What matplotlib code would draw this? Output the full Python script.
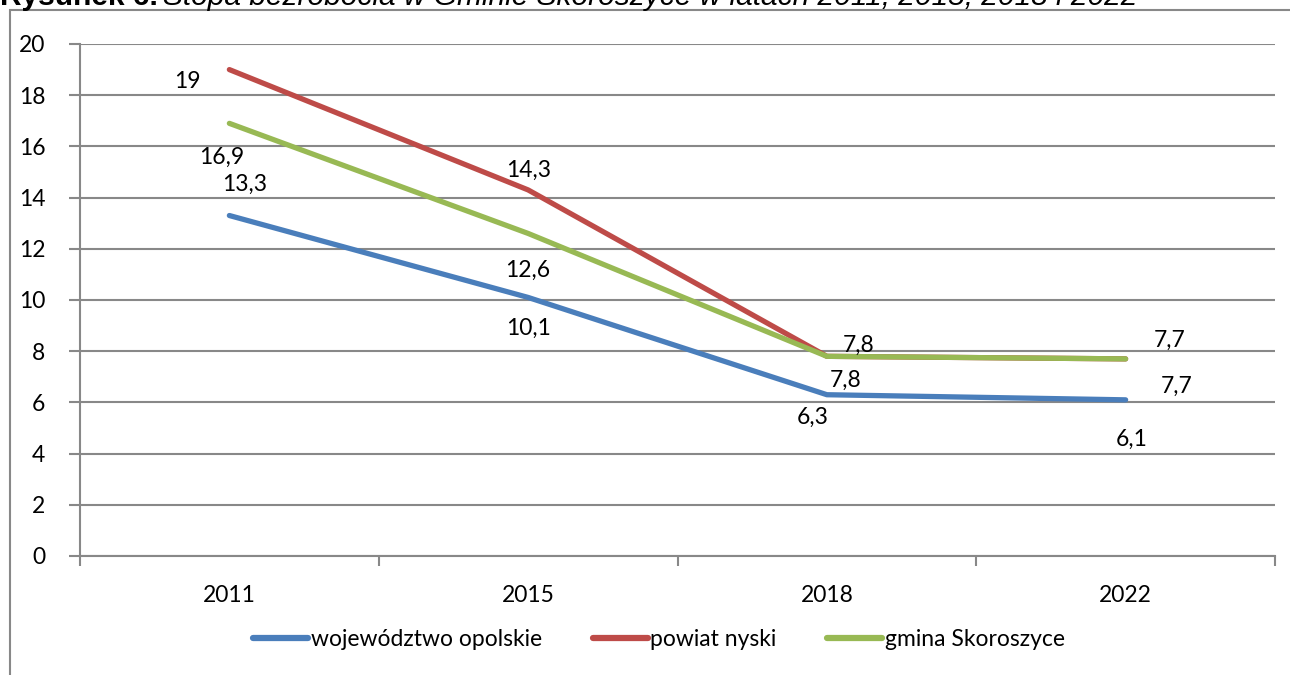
import matplotlib
matplotlib.use("Agg")
import matplotlib.pyplot as plt
from matplotlib.patches import Rectangle
from matplotlib.lines import Line2D

# chart data
years = ["2011", "2015", "2018", "2022"]
wojewodztwo = [13.3, 10.1, 6.3, 6.1]
powiat = [19, 14.3, 7.8, 7.7]
gmina = [16.9, 12.6, 7.8, 7.7]
series_names = ["województwo opolskie", "powiat nyski", "gmina Skoroszyce"]
y_ticks = [0, 2, 4, 6, 8, 10, 12, 14, 16, 18, 20]

# styling
colors = ["#4A7EBB", "#BE4B48", "#98B954"]
grid_color = "#888888"
label_font = "Lato"
font_size = 16.5
# data label offsets in pixels (dx, dy) as placed in the source chart
label_offsets = [
    [(15, 31), (0, -31), (-14, -23), (6, -40)],
    [(-42, -12), (0, 20), (19, -24), (51, -27)],
    [(-8, -34), (0, -37), (32, 11), (44, 19)],
]

W, H = 1290, 675
fig = plt.figure(figsize=(W / 100, H / 100), dpi=100)
ax = fig.add_axes([80 / W, (H - 556) / H, (1275 - 80) / W, 512 / H])

x = list(range(len(years)))
for values, color in zip([wojewodztwo, powiat, gmina], colors):
    ax.plot(x, values, color=color, lw=3.8, solid_capstyle="round", zorder=3)

for values, offsets in zip([wojewodztwo, powiat, gmina], label_offsets):
    for xi, v, (dx, dy) in zip(x, values, offsets):
        ax.annotate(f"{v:g}".replace(".", ","), (xi, v), xytext=(dx, dy),
                    textcoords="offset pixels", ha="center", va="center",
                    fontsize=font_size, family=label_font, color="black", zorder=4)

ax.set_xlim(-0.5, len(years) - 0.5)
ax.set_ylim(0, 20)
ax.set_yticks(y_ticks)
ax.set_yticklabels([str(t) for t in y_ticks])
ax.set_xticks([i - 0.5 for i in range(len(years) + 1)])
ax.set_xticklabels([])
ax.set_xticks(x, minor=True)
ax.set_xticklabels(years, minor=True)
ax.tick_params(axis="x", which="major", length=7, width=1.5, color=grid_color,
               direction="out")
ax.tick_params(axis="x", which="minor", length=0, pad=21)
ax.tick_params(axis="y", length=8, width=1.5, color=grid_color, pad=17)
for lbl in ax.get_xticklabels(minor=True) + ax.get_yticklabels():
    lbl.set_fontfamily(label_font)
    lbl.set_fontsize(font_size)

ax.grid(axis="y", color=grid_color, lw=1.5, zorder=1)
for side in ["top", "right"]:
    ax.spines[side].set_visible(False)
for side in ["left", "bottom"]:
    ax.spines[side].set_color(grid_color)
    ax.spines[side].set_linewidth(1.5)

handles = [Line2D([], [], color=c, lw=4.5, solid_capstyle="round") for c in colors]
fig.legend(handles, series_names, loc="center", bbox_to_anchor=(659 / W, 1 - 640 / H),
           ncol=3, frameon=False, handlelength=2.4, handletextpad=0.12,
           columnspacing=2.2, prop={"family": label_font, "size": font_size})

# outer chart border (runs off the bottom and right edges)
fig.patches.append(Rectangle((9.5 / W, -0.1), 1.2, 1.1 - 10 / H, transform=fig.transFigure,
                             fill=False, edgecolor=grid_color, lw=1.5))

# caption, cut off at the top edge like in the source
t1 = fig.text(0, 1 - 5 / H, "Rysunek 6.", fontsize=21.5, fontweight="bold",
              family="Liberation Sans", va="baseline", ha="left")
fig.canvas.draw()
bb = t1.get_window_extent()
fig.text((bb.x1 + 5) / W, 1 - 5 / H,
         "Stopa bezrobocia w Gminie Skoroszyce w latach 2011, 2015, 2018 i 2022",
         fontsize=21.5, fontstyle="italic", family="Liberation Sans",
         va="baseline", ha="left")

fig.savefig("out.png", dpi=100)
